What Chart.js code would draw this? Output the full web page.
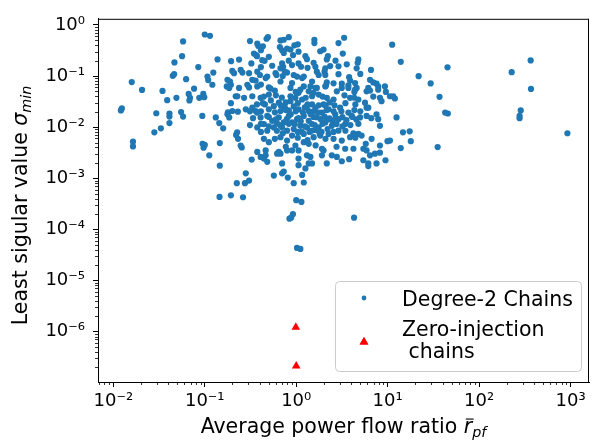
<!DOCTYPE html>
<html><head><meta charset="utf-8">
<script src="https://cdn.jsdelivr.net/npm/chart.js@4.4.1/dist/chart.umd.min.js"></script>
<style>html,body{margin:0;padding:0;background:#fff;overflow:hidden}</style>
</head><body>
<canvas id="c" width="594" height="443"></canvas>
<script>
// ---- data ----
const degree2X = [
0.0121,0.0124,0.0159,0.0164,0.0164,0.0206,0.0281,0.0295,0.0331,0.0345,0.0388,0.0411,0.0411,0.0411,0.0447,0.0462,0.0466,0.049,0.0551,0.0579,
0.0565,0.0579,0.0625,0.0667,0.069,0.0679,0.0764,0.0849,0.0871,0.094,0.0946,0.097,0.100,0.100,0.114,0.107,0.109,0.112,0.0963,0.0988,
0.121,0.124,0.132,0.138,0.144,0.159,0.146,0.146,0.145,0.179,0.193,0.194,0.200,0.209,0.218,0.230,0.220,0.226,0.231,0.254,
0.275,0.281,0.305,0.326,0.193,0.262,0.224,0.312,0.375,0.385,0.432,0.474,0.490,0.673,0.731,0.829,0.956,1.04,0.345,0.366,
0.372,0.425,0.451,0.502,0.662,0.701,0.731,0.794,0.865,0.923,1.26,1.31,0.323,0.546,0.701,0.719,0.673,0.900,1.06,1.13,
0.247,0.258,0.305,0.375,0.401,0.482,0.594,0.609,0.750,0.794,0.939,1.02,1.16,1.21,1.49,0.177,0.189,0.193,0.174,0.237,
0.292,0.331,0.360,0.463,0.673,0.900,1.21,0.375,0.502,1.58,1.58,2.90,3.34,11.2,1.83,3.23,2.22,2.16,4.78,4.70,
1.55,1.62,1.68,2.04,2.35,3.57,4.58,6.57,2.90,3.79,3.88,4.40,6.41,6.96,7.55,2.16,2.11,3.15,1.43,1.68,
3.72,4.58,6.14,7.88,9.33,0.185,0.305,0.524,0.865,1.11,1.37,0.227,0.269,0.331,0.408,0.502,0.200,0.177,0.185,0.281,
0.331,0.360,0.569,0.645,0.673,0.865,0.980,1.16,1.31,1.49,0.865,1.06,0.408,0.482,0.546,0.443,0.645,0.731,0.829,0.900,
1.02,1.21,1.37,0.701,0.794,0.939,1.11,1.31,0.375,0.482,0.569,0.247,0.443,0.502,0.673,0.794,0.900,0.980,1.21,1.37,
0.375,0.645,1.06,1.62,2.08,2.78,3.15,4.40,5.88,7.88,1.49,1.76,2.16,2.56,3.88,4.78,5.65,5.88,8.23,8.57,
10.6,1.37,1.62,1.91,2.26,2.67,3.02,4.04,4.99,7.55,7.88,12.5,1.49,1.76,2.08,2.45,2.90,3.43,5.88,8.23,
1.55,1.83,2.26,2.56,3.15,3.88,4.78,5.19,6.67,8.23,10.6,1.91,3.43,5.42,0.408,0.463,0.463,0.482,0.443,0.618,
0.673,0.794,0.900,0.701,1.06,1.06,1.31,1.37,1.26,0.569,0.701,0.731,0.809,0.939,1.16,1.21,1.00,1.14,1.43,1.49,
1.91,1.99,2.16,2.45,2.78,3.15,3.79,5.42,6.14,6.41,7.26,8.23,7.55,9.46,4.22,5.88,13.9,21.8,29.5,36.9,
42.5,45.5,35.2,45.1,227,366,369,285,277,277,923,13.9,14.7,17.4,17.9,9.95,11.5,12.0,9.56,6.41,
6.14,6.14,5.76,4.32,2.08,2.08,4.29,0.843,0.88,0.92,1.02,1.11,
0.750,0.829,0.939,1.06,1.18,0.788,0.963,1.12,1.24,1.44,1.67,1.85,2.04,2.31,2.49,2.76,1.55,1.76,1.99,2.31,
2.62,3.20,3.54,2.90,3.12,2.20,1.89,1.63,1.40,1.21,1.04,0.871,0.584,0.502,0.411,0.455,0.528,0.696,0.769,0.614,
0.372,0.432,0.679,1.04,1.33,2.09,3.45,4.43,
0.312,0.372,0.769,0.988,1.76,2.15,2.56,3.72,4.32,5.02,
0.337,0.502,0.599,1.06,1.55,2.20,2.69,4.11,4.54,6.62,
0.312,0.411,0.502,0.662,0.829,1.24,1.59,1.94,3.20,3.91,4.78,
0.411,0.614,0.713,1.15,1.47,1.80,2.56,3.45,4.22,
0.584,1.04,1.33,2.09,4.43,
0.443,0.599,1.27,1.94,3.37,4.32,6.96,
0.769,1.63,2.76,
0.411,1.06,1.99,0.237,0.829,2.69,0.411,1.33,2.90,0.713,1.76,5.02,0.411,2.56,3.72,0.584,0.988,1.55
];
const degree2Y = [
0.0213,0.0233,0.0763,0.0052,0.0042,0.0535,0.00794,0.0187,0.0095,0.0512,0.0337,0.0185,0.0161,0.0120,0.101,0.109,0.185,0.0375,0.0198,0.0161,
0.245,0.477,0.0871,0.0448,0.0375,0.0333,0.0566,0.150,0.0375,0.0166,0.00472,0.00395,0.0045,0.650,0.614,0.0977,0.0834,0.00281,0.0448,0.0385,
0.0676,0.117,0.0155,0.212,0.0120,0.0095,0.00176,0.00488,0.000431,0.0195,0.0295,0.196,0.126,0.114,0.0403,0.0201,0.00705,0.00794,0.0059,0.0040,
0.0008,0.00125,0.0009,0.00232,0.000464,0.000425,0.0008,0.483,0.431,0.387,0.382,0.537,0.577,0.499,0.514,0.577,0.399,0.417,0.276,0.256,
0.245,0.205,0.199,0.238,0.370,0.320,0.284,0.345,0.330,0.256,0.245,0.214,0.177,0.159,0.177,0.152,0.142,0.164,0.177,0.152,
0.132,0.117,0.114,0.122,0.105,0.0977,0.114,0.105,0.122,0.117,0.105,0.0977,0.0912,0.0977,0.0783,0.0845,0.0783,0.0676,0.0628,0.0585,
0.0676,0.0845,0.0819,0.0912,0.0783,0.0730,0.0628,0.0628,0.0600,0.514,0.442,0.442,0.562,0.412,0.306,0.276,0.245,0.212,0.212,0.182,
0.182,0.152,0.122,0.122,0.157,0.170,0.142,0.132,0.109,0.0953,0.0819,0.0730,0.0845,0.0750,0.0708,0.0750,0.0647,0.0708,0.0628,0.0585,
0.0585,0.0585,0.0585,0.0628,0.0628,0.0585,0.0600,0.0566,0.0585,0.0542,0.0503,0.0403,0.0375,0.0403,0.0375,0.0434,0.0207,0.0179,0.0155,0.0223,
0.0241,0.0207,0.0258,0.0301,0.0207,0.0323,0.0375,0.0348,0.0258,0.0279,0.0403,0.0469,0.0155,0.0166,0.0133,0.0115,0.0155,0.0124,0.0166,0.0124,
0.0143,0.0166,0.0133,0.0099,0.00853,0.00919,0.0106,0.0099,0.0099,0.00853,0.0099,0.00438,0.0059,0.00509,0.00636,0.00547,0.00683,0.00438,0.00509,0.00472,
0.00327,0.00327,0.00351,0.0585,0.0628,0.0503,0.0585,0.0542,0.0503,0.0542,0.0403,0.0434,0.0375,0.0348,0.0375,0.0348,0.0301,0.0241,0.0375,0.0323,
0.0403,0.0207,0.0241,0.0193,0.0223,0.0179,0.0241,0.0166,0.0155,0.0179,0.0143,0.0155,0.0115,0.0099,0.0124,0.0106,0.00853,0.0115,0.0166,0.0106,
0.00636,0.00683,0.00736,0.0059,0.00547,0.00636,0.00736,0.00683,0.0059,0.00438,0.00547,0.00378,0.00378,0.00378,0.00262,0.00281,0.00351,0.0021,0.00243,0.00303,
0.00303,0.00351,0.00351,0.00195,0.00243,0.0018,0.00281,0.00195,0.00156,0.00113,0.00125,0.00135,0.00103,0.0008,0.00116,0.000826,0.000372,0.000345,0.00262,0.00195,
0.00281,0.00351,0.00195,0.00281,0.00262,0.00215,0.00236,0.00225,0.00195,0.00281,0.00303,0.00317,0.00195,0.00225,0.00378,0.00351,0.190,0.0996,0.0717,0.0392,
0.0193,0.0185,0.00408,0.148,0.119,0.202,0.0559,0.0213,0.0166,0.0150,0.0076,0.0039,0.00794,0.0083,0.00532,0.00532,0.0403,0.0364,0.049,0.0521,
0.0241,0.00173,0.00472,0.049,0.142,0.105,0.000169,0.000162,0.000169,0.000198,0.0000434,0.0000415,
0.0244,0.0213,0.0255,0.0223,0.0195,0.0143,0.0115,0.0131,0.0244,0.0179,0.0157,0.0143,0.0161,0.0148,0.0131,0.0115,0.0204,0.0267,0.0279,0.0305,
0.0267,0.0157,0.0137,0.0143,0.0204,0.00919,0.00805,0.00879,0.00805,0.00736,0.00805,0.0179,0.0195,0.0223,0.0204,0.0279,0.0333,0.038,0.0305,0.0120,
0.0279,0.0295,0.0264,0.0295,0.0279,0.0264,0.0295,0.0279,
0.0204,0.0193,0.0216,0.0204,0.0193,0.0216,0.0204,0.0193,0.0216,0.0204,
0.0150,0.0158,0.0142,0.0150,0.0158,0.0142,0.0150,0.0158,0.0142,0.0150,
0.0110,0.0116,0.0104,0.0110,0.0116,0.0104,0.0110,0.0116,0.0104,0.0110,0.0116,
0.00805,0.0085,0.0076,0.00805,0.0085,0.0076,0.00805,0.0085,0.0076,
0.0059,0.0062,0.0056,0.0059,0.0062,
0.0397,0.042,0.0376,0.0397,0.042,0.0376,0.0397,
0.00414,0.0044,0.00414,
0.32,0.30,0.33,0.21,0.20,0.20,0.15,0.145,0.155,0.10,0.105,0.11,0.068,0.072,0.066,0.052,0.049,0.047
];
const zeroInjX = [0.99, 1.0];
const zeroInjY = [1.22e-6, 2.13e-7];
const seriesNames = ['Degree-2 Chains', 'Zero-injection\n chains'];
const xTickValues = [1e-2, 1e-1, 1e0, 1e1, 1e2, 1e3];
const xTickLabels = ['10\u207B\u00B2', '10\u207B\u00B9', '10\u2070', '10\u00B9', '10\u00B2', '10\u00B3'];
const yTickValues = [1e-6, 1e-5, 1e-4, 1e-3, 1e-2, 1e-1, 1e0];
const yTickLabels = ['10\u207B\u2076', '10\u207B\u2075', '10\u207B\u2074', '10\u207B\u00B3', '10\u207B\u00B2', '10\u207B\u00B9', '10\u2070'];
const xTitleParts = ['Average power flow ratio ', 'r', 'pf'];
const yTitleParts = ['Least sigular value ', '\u03C3', 'min'];

const FONT = '"DejaVu Sans", sans-serif';
const BLUE = '#1f77b4';
const RED = '#ff0000';

function pts(xs, ys) { return xs.map((x, i) => ({ x: x, y: ys[i] })); }

const decor = {
  id: 'decor',
  afterDraw(chart) {
    const ctx = chart.ctx, a = chart.chartArea;
    const xs = chart.scales.x, ys = chart.scales.y;
    ctx.save();
    // top & right spines
    ctx.strokeStyle = '#000'; ctx.lineWidth = 1;
    ctx.beginPath();
    ctx.moveTo(a.left, a.top + 0.5); ctx.lineTo(a.right, a.top + 0.5);
    ctx.moveTo(a.right - 0.5, a.top); ctx.lineTo(a.right - 0.5, a.bottom);
    ctx.stroke();
    // minor ticks
    ctx.lineWidth = 0.8;
    ctx.beginPath();
    for (let k = -8; k <= 4; k++) {
      for (let m = 2; m <= 9; m++) {
        const v = m * Math.pow(10, k);
        if (v > xs.min && v < xs.max) {
          const p = Math.round(xs.getPixelForValue(v)) + 0.5;
          ctx.moveTo(p, a.bottom); ctx.lineTo(p, a.bottom + 3);
        }
        if (v > ys.min && v < ys.max) {
          const p = Math.round(ys.getPixelForValue(v)) + 0.5;
          ctx.moveTo(a.left, p); ctx.lineTo(a.left - 3, p);
        }
      }
    }
    ctx.stroke();

    // x title
    ctx.fillStyle = '#000';
    ctx.textBaseline = 'alphabetic';
    const fs = 20.5;
    ctx.font = fs + 'px ' + FONT;
    const w1 = ctx.measureText(xTitleParts[0]).width;
    ctx.font = 'italic ' + fs + 'px ' + FONT;
    const w2 = ctx.measureText(xTitleParts[1]).width;
    ctx.font = 'italic ' + (fs * 0.7) + 'px ' + FONT;
    const w3 = ctx.measureText(xTitleParts[2]).width;
    const cx = (a.left + a.right) / 2, by = 433;
    let x0 = cx - (w1 + w2 + w3) / 2;
    ctx.font = fs + 'px ' + FONT;
    ctx.fillText(xTitleParts[0], x0, by);
    ctx.font = 'italic ' + fs + 'px ' + FONT;
    ctx.fillText(xTitleParts[1], x0 + w1, by);
    ctx.lineWidth = 1.1;
    ctx.beginPath();
    ctx.moveTo(x0 + w1 + 2, by - fs * 0.68); ctx.lineTo(x0 + w1 + w2 + 1.5, by - fs * 0.68);
    ctx.stroke();
    ctx.font = 'italic ' + (fs * 0.7) + 'px ' + FONT;
    ctx.fillText(xTitleParts[2], x0 + w1 + w2, by + fs * 0.2);

    // y title (rotated)
    ctx.save();
    const cy = (a.top + a.bottom) / 2 + 5, bx = 27;
    ctx.translate(bx, cy);
    ctx.rotate(-Math.PI / 2);
    ctx.font = fs + 'px ' + FONT;
    const v1 = ctx.measureText(yTitleParts[0]).width;
    ctx.font = 'italic ' + fs + 'px ' + FONT;
    const v2 = ctx.measureText(yTitleParts[1]).width;
    ctx.font = 'italic ' + (fs * 0.7) + 'px ' + FONT;
    const v3 = ctx.measureText(yTitleParts[2]).width;
    let y0 = -(v1 + v2 + v3) / 2;
    ctx.font = fs + 'px ' + FONT;
    ctx.fillText(yTitleParts[0], y0, 0);
    ctx.font = 'italic ' + fs + 'px ' + FONT;
    ctx.fillText(yTitleParts[1], y0 + v1, 0);
    ctx.font = 'italic ' + (fs * 0.7) + 'px ' + FONT;
    ctx.fillText(yTitleParts[2], y0 + v1 + v2, fs * 0.2);
    ctx.restore();

    // legend
    const lx = 335.5, ly = 281.5, lw = 246, lh = 90;
    ctx.beginPath();
    ctx.roundRect(lx, ly, lw, lh, 4);
    ctx.fillStyle = 'rgba(255,255,255,0.8)';
    ctx.fill();
    ctx.strokeStyle = '#cccccc'; ctx.lineWidth = 1;
    ctx.stroke();
    const ds = chart.data.datasets;
    ctx.beginPath();
    Chart.helpers.drawPoint(ctx, { pointStyle: 'circle', radius: 2.4, borderWidth: 0, rotation: 0 }, 364, 298);
    ctx.fillStyle = BLUE; ctx.fill();
    ctx.beginPath();
    ctx.fillStyle = RED; ctx.strokeStyle = RED;
    Chart.helpers.drawPoint(ctx, { pointStyle: 'triangle', radius: 5, borderWidth: 0, rotation: 0 }, 364, 342);
    ctx.fillStyle = RED; ctx.fill();
    ctx.fillStyle = '#000';
    ctx.font = fs + 'px ' + FONT;
    ctx.textBaseline = 'alphabetic';
    ctx.fillText(ds[0].label, 402, 305.5);
    const lines = ds[1].label.split('\n');
    ctx.fillText(lines[0], 402, 335.5);
    ctx.fillText(lines[1], 402, 358);
    ctx.restore();
  }
};

new Chart(document.getElementById('c'), {
  type: 'scatter',
  data: {
    datasets: [
      { label: seriesNames[0], data: pts(degree2X, degree2Y), pointRadius: 3.1, pointHoverRadius: 3.1,
        backgroundColor: BLUE, borderWidth: 0, pointStyle: 'circle' },
      { label: seriesNames[1], data: pts(zeroInjX, zeroInjY), pointRadius: 5, pointHoverRadius: 5,
        backgroundColor: RED, borderWidth: 0, pointStyle: 'triangle' }
    ]
  },
  options: {
    responsive: false, animation: false, devicePixelRatio: 1,
    events: [],
    layout: { padding: { left: 0, right: 2, top: 13, bottom: 0 } },
    plugins: { legend: { display: false }, tooltip: { enabled: false }, title: { display: false } },
    scales: {
      x: {
        type: 'logarithmic', position: 'bottom', min: 0.0068, max: 1590,
        afterBuildTicks: s => { s.ticks = xTickValues.map(v => ({ value: v })); },
        afterFit: s => { s.height = 61; },
        ticks: { callback: (v, i) => xTickLabels[i], font: { family: FONT, size: 18 }, color: '#000',
                 padding: 4, maxRotation: 0, autoSkip: false },
        grid: { drawOnChartArea: false, drawTicks: true, tickLength: 5, tickColor: '#000', tickWidth: 1 },
        border: { display: true, color: '#000', width: 1 }
      },
      y: {
        type: 'logarithmic', position: 'left', min: 1.03e-7, max: 1.32,
        afterBuildTicks: s => { s.ticks = yTickValues.map(v => ({ value: v })); },
        afterFit: s => { s.width = 98; },
        ticks: { callback: (v, i) => yTickLabels[i], font: { family: FONT, size: 18 }, color: '#000',
                 padding: 8, autoSkip: false },
        grid: { drawOnChartArea: false, drawTicks: true, tickLength: 5, tickColor: '#000', tickWidth: 1 },
        border: { display: true, color: '#000', width: 1 }
      }
    }
  },
  plugins: [decor]
});
</script>
</body></html>
